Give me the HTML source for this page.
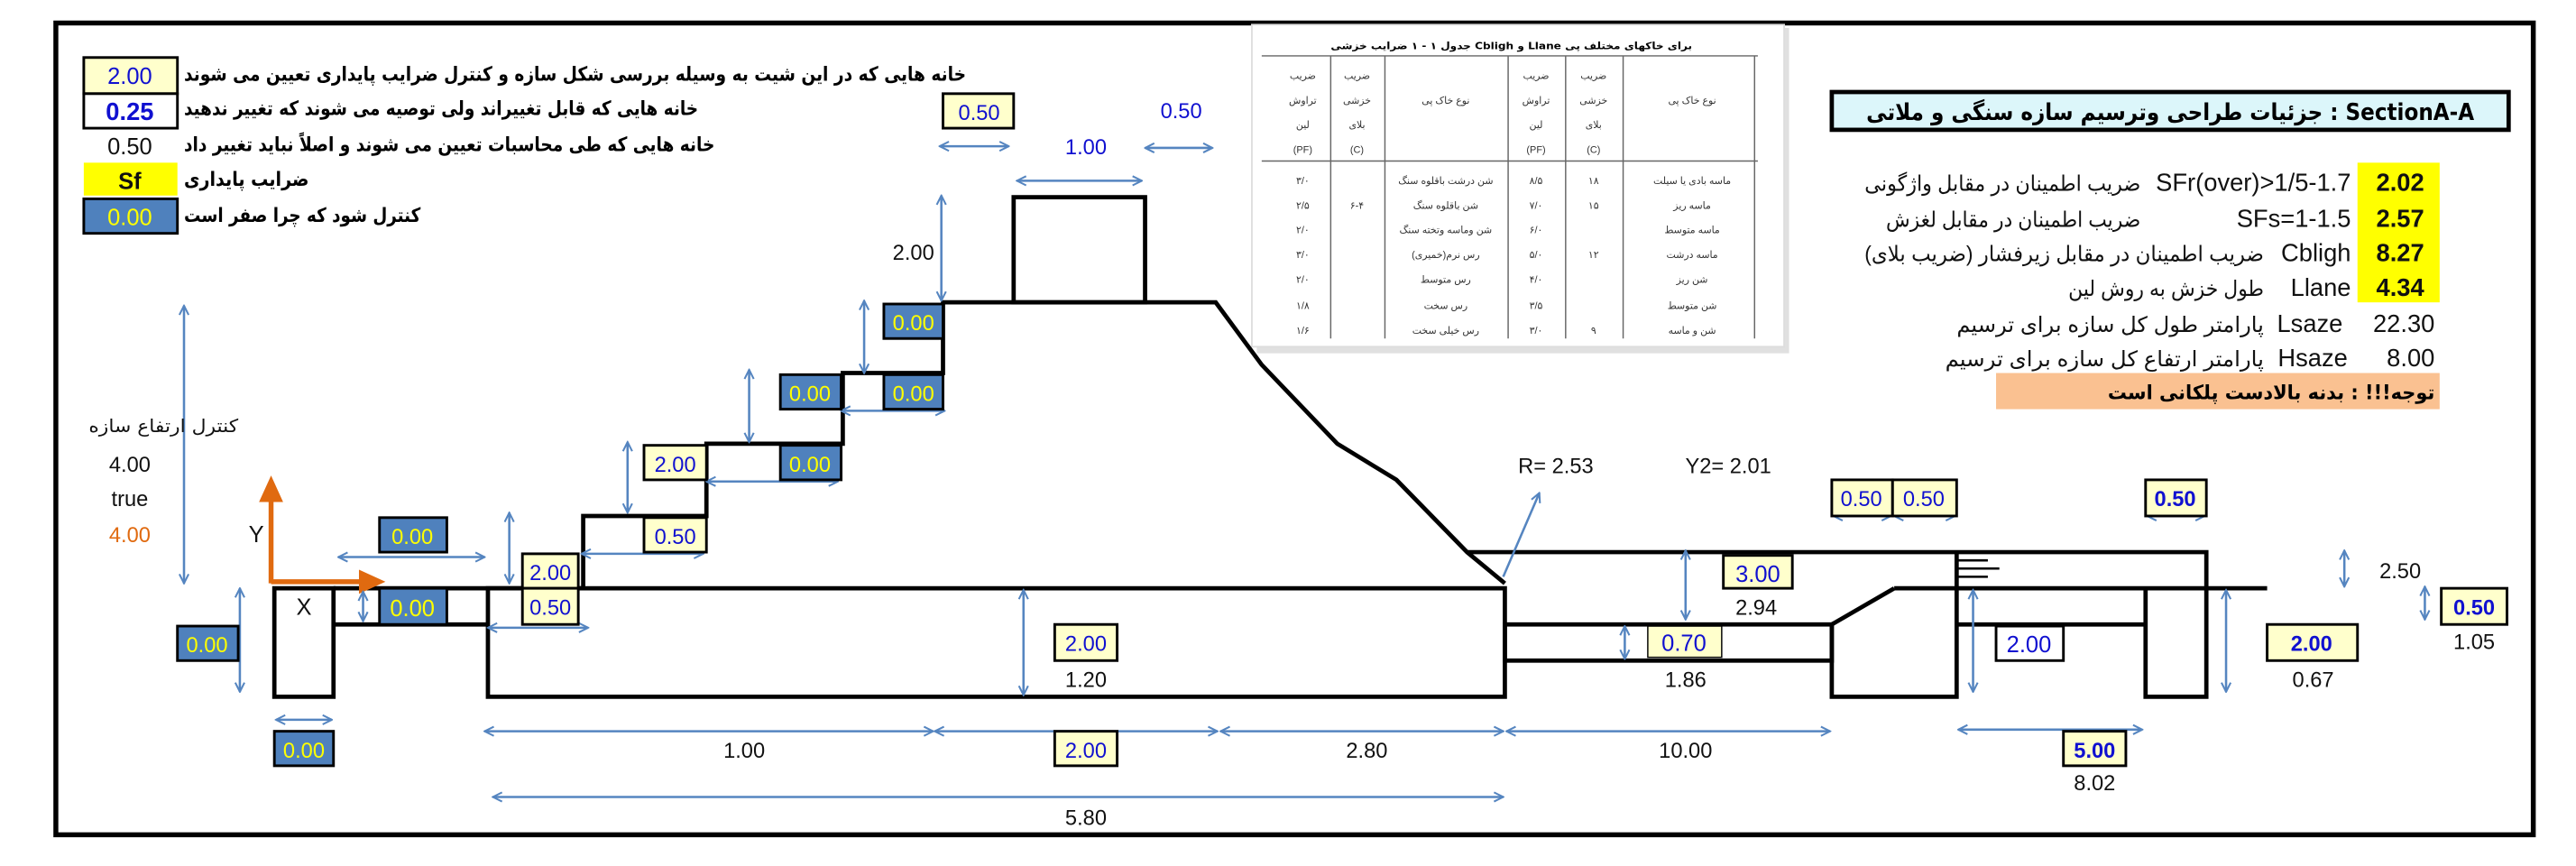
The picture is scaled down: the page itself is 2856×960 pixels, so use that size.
<!DOCTYPE html>
<html><head><meta charset="utf-8"><style>
html,body{margin:0;padding:0;background:#fff;}
svg{display:block;}
text{font-family:"Liberation Sans","DejaVu Sans",sans-serif;}
.fa{font-family:"DejaVu Sans","Liberation Sans",sans-serif;font-weight:bold;}
.fn{font-family:"DejaVu Sans","Liberation Sans",sans-serif;}
.b{fill:#1010d0;}
.y{fill:#ffff00;}
.k{fill:#111;}
.st{fill:none;stroke:#000;stroke-width:2.6;}
.ar{fill:none;stroke:#5585c0;stroke-width:1.4;marker-start:url(#m);marker-end:url(#m);}
.yb{fill:#ffffcc;stroke:#000;stroke-width:1.6;}
.bb{fill:#4f81bd;stroke:#000;stroke-width:1.6;}
.wb{fill:#fff;stroke:#000;stroke-width:1.6;}
</style></head><body>
<svg width="2856" height="960" viewBox="0 0 1568 527" preserveAspectRatio="none" xmlns="http://www.w3.org/2000/svg">
<defs>
<marker id="m" viewBox="0 0 10 10" refX="9" refY="5" markerWidth="7" markerHeight="7" markerUnits="userSpaceOnUse" orient="auto-start-reverse">
<path d="M1,1 L9,5 L1,9" fill="none" stroke="#5585c0" stroke-width="1.6"/>
</marker>
</defs>
<rect x="0" y="0" width="1568" height="527" fill="#fff"/>
<rect x="34" y="14" width="1508" height="494" fill="none" stroke="#000" stroke-width="3"/>

<!-- legend -->
<rect x="51" y="35" width="57" height="22" class="yb"/><text x="79" y="51" font-size="14" text-anchor="middle" class="b">2.00</text>
<rect x="51" y="57" width="57" height="21" class="wb"/><text x="79" y="73" font-size="15" font-weight="bold" text-anchor="middle" class="b">0.25</text>
<text x="79" y="94" font-size="14" text-anchor="middle" class="k">0.50</text>
<rect x="51" y="99" width="57" height="20" fill="#ffff00"/><text x="79" y="115" font-size="14" font-weight="bold" text-anchor="middle" class="k">Sf</text>
<rect x="51" y="121" width="57" height="21" class="bb"/><text x="79" y="137" font-size="14" text-anchor="middle" class="y">0.00</text>
<text x="112" y="49" font-size="12" textLength="476" lengthAdjust="spacingAndGlyphs" class="fa">خانه هایی که در این شیت به وسیله بررسی شکل سازه و کنترل ضرایب پایداری تعیین می شوند</text>
<text x="112" y="70" font-size="12" textLength="313" lengthAdjust="spacingAndGlyphs" class="fa">خانه هایی که قابل تغییراند ولی توصیه می شوند که تغییر ندهید</text>
<text x="112" y="92" font-size="12" textLength="323" lengthAdjust="spacingAndGlyphs" class="fa">خانه هایی که طی محاسبات تعیین می شوند و اصلاً نباید تغییر داد</text>
<text x="112" y="113" font-size="12" textLength="76" lengthAdjust="spacingAndGlyphs" class="fa">ضرایب پایداری</text>
<text x="112" y="135" font-size="12" textLength="144" lengthAdjust="spacingAndGlyphs" class="fa">کنترل شود که چرا صفر است</text>

<!-- table image -->
<rect x="765" y="17" width="324" height="198" fill="#ccc" opacity="0.6"/>
<rect x="762" y="15" width="324" height="196" fill="#fff" stroke="#ddd"/>
<text x="810" y="30" font-size="6" textLength="220" lengthAdjust="spacingAndGlyphs" class="fa">جدول ۱ - ۱ ضرایب خزشی Cbligh و Llane برای خاکهای مختلف پی</text>
<g stroke="#666" stroke-width="0.8" fill="none">
<line x1="768" y1="34" x2="1070" y2="34"/>
<line x1="768" y1="98" x2="1070" y2="98"/>
<line x1="810" y1="34" x2="810" y2="206"/><line x1="843" y1="34" x2="843" y2="206"/>
<line x1="918" y1="34" x2="918" y2="206"/><line x1="953" y1="34" x2="953" y2="206"/>
<line x1="988" y1="34" x2="988" y2="206"/><line x1="1068" y1="34" x2="1068" y2="206"/>
</g>
<g font-size="6" fill="#333" text-anchor="middle">
<text x="793" y="48">ضریب</text><text x="793" y="63">تراوش</text><text x="793" y="78">لین</text><text x="793" y="93">(PF)</text>
<text x="826" y="48">ضریب</text><text x="826" y="63">خزشی</text><text x="826" y="78">بلای</text><text x="826" y="93">(C)</text>
<text x="880" y="63">نوع خاک پی</text>
<text x="935" y="48">ضریب</text><text x="935" y="63">تراوش</text><text x="935" y="78">لین</text><text x="935" y="93">(PF)</text>
<text x="970" y="48">ضریب</text><text x="970" y="63">خزشی</text><text x="970" y="78">بلای</text><text x="970" y="93">(C)</text>
<text x="1030" y="63">نوع خاک پی</text>
<text x="793" y="112">۳/۰</text><text x="793" y="127">۲/۵</text><text x="793" y="142">۲/۰</text><text x="793" y="157">۳/۰</text><text x="793" y="172">۲/۰</text><text x="793" y="188">۱/۸</text><text x="793" y="203">۱/۶</text>
<text x="826" y="127">۶-۴</text>
<text x="880" y="112">شن درشت باقلوه سنگ</text><text x="880" y="127">شن باقلوه سنگ</text><text x="880" y="142">شن وماسه وتخته سنگ</text><text x="880" y="157">رس نرم(خمیری)</text><text x="880" y="172">رس متوسط</text><text x="880" y="188">رس سخت</text><text x="880" y="203">رس خیلی سخت</text>
<text x="935" y="112">۸/۵</text><text x="935" y="127">۷/۰</text><text x="935" y="142">۶/۰</text><text x="935" y="157">۵/۰</text><text x="935" y="172">۴/۰</text><text x="935" y="188">۳/۵</text><text x="935" y="203">۳/۰</text>
<text x="970" y="112">۱۸</text><text x="970" y="127">۱۵</text><text x="970" y="157">۱۲</text><text x="970" y="203">۹</text>
<text x="1030" y="112">ماسه بادی یا سیلت</text><text x="1030" y="127">ماسه ریز</text><text x="1030" y="142">ماسه متوسط</text><text x="1030" y="157">ماسه درشت</text><text x="1030" y="172">شن ریز</text><text x="1030" y="188">شن متوسط</text><text x="1030" y="203">شن و ماسه</text>
</g>

<!-- title -->
<rect x="1115" y="56" width="412" height="23" fill="#dcf6fa" stroke="#000" stroke-width="2.6"/>
<text x="1136" y="73" font-size="14" textLength="370" lengthAdjust="spacingAndGlyphs" class="fa">جزئیات طراحی وترسیم سازه سنگی و ملاتی : SectionA-A</text>

<!-- factors -->
<rect x="1435" y="99" width="50" height="85" fill="#ffff00"/>
<g font-size="15" font-weight="bold" text-anchor="middle" class="k">
<text x="1461" y="116">2.02</text><text x="1461" y="138">2.57</text><text x="1461" y="159">8.27</text><text x="1461" y="180">4.34</text>
</g>
<g font-size="15" text-anchor="end" class="k">
<text x="1431" y="116">SFr(over)&gt;1/5-1.7</text>
<text x="1431" y="138">SFs=1-1.5</text>
<text x="1431" y="159">Cbligh</text>
<text x="1431" y="180">Llane</text>
<text x="1426" y="202">Lsaze</text>
<text x="1482" y="202">22.30</text>
<text x="1429" y="223">Hsaze</text>
<text x="1482" y="223">8.00</text>
</g>
<g font-size="13" class="k fn" fill="#111">
<text x="1135" y="116" textLength="168" lengthAdjust="spacingAndGlyphs">ضریب اطمینان در مقابل واژگونی</text>
<text x="1148" y="138" textLength="155" lengthAdjust="spacingAndGlyphs">ضریب اطمینان در مقابل لغزش</text>
<text x="1135" y="159" textLength="243" lengthAdjust="spacingAndGlyphs">ضریب اطمینان در مقابل زیرفشار (ضریب بلای)</text>
<text x="1259" y="180" textLength="119" lengthAdjust="spacingAndGlyphs">طول خزش به روش لین</text>
<text x="1191" y="202" textLength="187" lengthAdjust="spacingAndGlyphs">پارامتر طول کل سازه برای ترسیم</text>
<text x="1184" y="223" textLength="194" lengthAdjust="spacingAndGlyphs">پارامتر ارتفاع کل سازه برای ترسیم</text>
</g>
<rect x="1215" y="227" width="270" height="22" fill="#fac191"/>
<text x="1283" y="243" font-size="12" textLength="199" lengthAdjust="spacingAndGlyphs" class="fa">توجه!!! : بدنه بالادست پلکانی است</text>

<!-- structure -->
<g class="st">
<rect x="167" y="358" width="36" height="66"/>
<polyline points="203,358 297,358"/>
<polyline points="203,380 297,380"/>
<rect x="297" y="358" width="619" height="66"/>
<polyline points="297,358 355,358 355,314 430,314 430,270 513,270 513,227 574,227 574,184 740,184 768,222 814,270 850,292 893,336 916,355"/>
<rect x="617" y="120" width="80" height="64"/>
<polyline points="893,336 1343,336 1343,424 1306,424 1306,358"/>
<polyline points="1153,358 1380,358"/>
<rect x="916" y="380" width="199" height="22"/>
<polyline points="1115,380 1153,358"/>
<polyline points="1115,380 1115,424 1191,424 1191,336"/>
<polyline points="1191,380 1306,380"/>
<line x1="1191" y1="341" x2="1210" y2="341" stroke-width="1.4"/>
<line x1="1191" y1="346" x2="1217" y2="346" stroke-width="1.4"/>
<line x1="1191" y1="351" x2="1210" y2="351" stroke-width="1.4"/>
</g>
<text x="185" y="374" font-size="14" text-anchor="middle" class="k">X</text>

<!-- axes -->
<g stroke="#e06a10" stroke-width="3" fill="#e06a10">
<line x1="165" y1="355" x2="165" y2="302"/><path d="M160,304 L165,293 L170,304 Z"/>
<line x1="165" y1="354" x2="222" y2="354"/><path d="M220,349 L231,354 L220,359 Z"/>
</g>
<text x="156" y="330" font-size="14" text-anchor="middle" class="k">Y</text>

<!-- arrows -->
<g class="ar">
<line x1="112" y1="186" x2="112" y2="355"/>
<line x1="146" y1="358" x2="146" y2="421"/>
<line x1="206" y1="339" x2="295" y2="339"/>
<line x1="221" y1="360" x2="221" y2="378"/>
<line x1="297" y1="382" x2="358" y2="382"/>
<line x1="310" y1="312" x2="310" y2="355"/>
<line x1="354" y1="337" x2="428" y2="337"/>
<line x1="382" y1="269" x2="382" y2="312"/>
<line x1="430" y1="293" x2="510" y2="293"/>
<line x1="456" y1="225" x2="456" y2="269"/>
<line x1="512" y1="250" x2="575" y2="250"/>
<line x1="526" y1="183" x2="526" y2="227"/>
<line x1="573" y1="119" x2="573" y2="183"/>
<line x1="572" y1="89" x2="614" y2="89"/>
<line x1="697" y1="90" x2="738" y2="90"/>
<line x1="619" y1="110" x2="695" y2="110"/>
<line x1="623" y1="359" x2="623" y2="423"/>
<line x1="168" y1="438" x2="202" y2="438"/>
<line x1="295" y1="445" x2="568" y2="445"/>
<line x1="569" y1="445" x2="741" y2="445"/>
<line x1="743" y1="445" x2="915" y2="445"/>
<line x1="917" y1="445" x2="1114" y2="445"/>
<line x1="300" y1="485" x2="915" y2="485"/>
<line x1="1026" y1="335" x2="1026" y2="377"/>
<line x1="989" y1="381" x2="989" y2="401"/>
<line x1="1201" y1="359" x2="1201" y2="421"/>
<line x1="1355" y1="359" x2="1355" y2="421"/>
<line x1="1192" y1="444" x2="1304" y2="444"/>
<line x1="1116" y1="314" x2="1151" y2="314"/>
<line x1="1153" y1="314" x2="1190" y2="314"/>
<line x1="1307" y1="314" x2="1342" y2="314"/>
<line x1="1427" y1="335" x2="1427" y2="357"/>
<line x1="1476" y1="357" x2="1476" y2="377"/>
</g>
<line x1="915" y1="351" x2="937" y2="300" stroke="#5585c0" stroke-width="1.4" marker-end="url(#m)"/>

<!-- boxes -->
<rect x="108" y="381" width="37" height="21" class="bb"/><text x="126" y="397" font-size="13" text-anchor="middle" class="y">0.00</text>
<rect x="231" y="315" width="41" height="21" class="bb"/><text x="251" y="331" font-size="13" text-anchor="middle" class="y">0.00</text>
<rect x="231" y="358" width="41" height="22" class="bb"/><text x="251" y="375" font-size="14" text-anchor="middle" class="y">0.00</text>
<rect x="167" y="445" width="36" height="21" class="bb"/><text x="185" y="461" font-size="13" text-anchor="middle" class="y">0.00</text>
<rect x="318" y="337" width="34" height="21" class="yb"/><text x="335" y="353" font-size="13" text-anchor="middle" class="b">2.00</text>
<rect x="318" y="358" width="34" height="22" class="yb"/><text x="335" y="374" font-size="13" text-anchor="middle" class="b">0.50</text>
<rect x="392" y="315" width="38" height="21" class="yb"/><text x="411" y="331" font-size="13" text-anchor="middle" class="b">0.50</text>
<rect x="392" y="271" width="38" height="21" class="yb"/><text x="411" y="287" font-size="13" text-anchor="middle" class="b">2.00</text>
<rect x="475" y="271" width="37" height="21" class="bb"/><text x="493" y="287" font-size="13" text-anchor="middle" class="y">0.00</text>
<rect x="475" y="228" width="37" height="21" class="bb"/><text x="493" y="244" font-size="13" text-anchor="middle" class="y">0.00</text>
<rect x="538" y="228" width="36" height="21" class="bb"/><text x="556" y="244" font-size="13" text-anchor="middle" class="y">0.00</text>
<rect x="538" y="185" width="36" height="21" class="bb"/><text x="556" y="201" font-size="13" text-anchor="middle" class="y">0.00</text>
<rect x="574" y="57" width="43" height="21" class="yb"/><text x="596" y="73" font-size="13" text-anchor="middle" class="b">0.50</text>
<rect x="642" y="380" width="38" height="22" class="yb"/><text x="661" y="396" font-size="13" text-anchor="middle" class="b">2.00</text>
<rect x="642" y="445" width="38" height="21" class="yb"/><text x="661" y="461" font-size="13" text-anchor="middle" class="b">2.00</text>
<rect x="1049" y="338" width="42" height="20" class="yb"/><text x="1070" y="354" font-size="14" text-anchor="middle" class="b">3.00</text>
<rect x="1003" y="381" width="45" height="19" fill="#ffffcc" stroke="#000" stroke-width="0.8"/><text x="1025" y="396" font-size="14" text-anchor="middle" class="b">0.70</text>
<rect x="1215" y="381" width="41" height="21" class="wb"/><text x="1235" y="397" font-size="14" text-anchor="middle" class="b">2.00</text>
<rect x="1380" y="380" width="55" height="22" class="yb"/><text x="1407" y="396" font-size="13" font-weight="bold" text-anchor="middle" class="b">2.00</text>
<rect x="1486" y="358" width="40" height="22" class="yb"/><text x="1506" y="374" font-size="13" font-weight="bold" text-anchor="middle" class="b">0.50</text>
<rect x="1115" y="292" width="37" height="22" class="yb"/><text x="1133" y="308" font-size="13" text-anchor="middle" class="b">0.50</text>
<rect x="1152" y="292" width="39" height="22" class="yb"/><text x="1171" y="308" font-size="13" text-anchor="middle" class="b">0.50</text>
<rect x="1306" y="292" width="37" height="22" class="yb"/><text x="1324" y="308" font-size="13" font-weight="bold" text-anchor="middle" class="b">0.50</text>
<rect x="1256" y="445" width="38" height="21" class="yb"/><text x="1275" y="461" font-size="13" font-weight="bold" text-anchor="middle" class="b">5.00</text>

<!-- plain labels -->
<text x="54" y="263" font-size="11" textLength="91" lengthAdjust="spacingAndGlyphs" class="fn" fill="#111">کنترل ارتفاع سازه</text>
<g font-size="13" text-anchor="middle" class="k">
<text x="79" y="287">4.00</text>
<text x="79" y="308">true</text>
<text x="79" y="330" fill="#e06a10">4.00</text>
<text x="556" y="158">2.00</text>
<text x="661" y="418">1.20</text>
<text x="453" y="461">1.00</text>
<text x="832" y="461">2.80</text>
<text x="1026" y="461">10.00</text>
<text x="661" y="502">5.80</text>
<text x="1069" y="374">2.94</text>
<text x="1026" y="418">1.86</text>
<text x="1408" y="418">0.67</text>
<text x="1506" y="395">1.05</text>
<text x="1275" y="481">8.02</text>
<text x="1461" y="352">2.50</text>
<text x="947" y="288">R=  2.53</text>
<text x="1052" y="288">Y2=  2.01</text>
</g>
<g font-size="13" text-anchor="middle" class="b">
<text x="661" y="94">1.00</text>
<text x="719" y="72">0.50</text>
</g>
</svg>
</body></html>
